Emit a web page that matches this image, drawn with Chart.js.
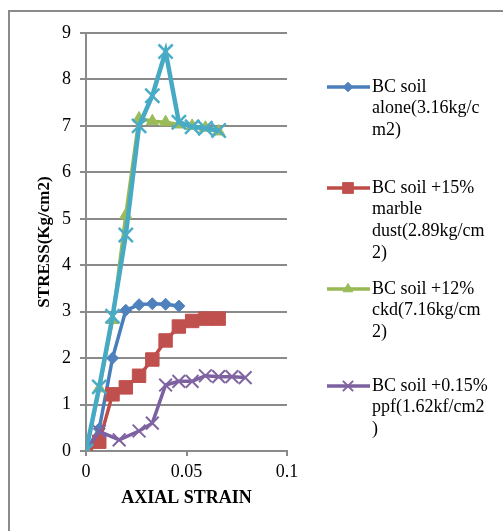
<!DOCTYPE html>
<html>
<head>
<meta charset="utf-8">
<script src="https://cdn.jsdelivr.net/npm/chart.js"></script>
<style>
  html, body { margin: 0; padding: 0; background: #fff; overflow: hidden; }
  #wrap { position: relative; width: 503px; height: 531px; }
  #frame { position: absolute; left: 8px; top: 10px; width: 600px; height: 600px; border: 2px solid #8a8a8a; }
  canvas { position: absolute; left: 0; top: 0; }
</style>
</head>
<body>
<div id="wrap">
  <div id="frame"></div>
  <canvas id="grafico" width="503" height="531"></canvas>
</div>
<script>
// valores (deformação axial x tensão)
const strainAlone = [0, 0.0066, 0.0132, 0.0198, 0.0264, 0.033, 0.0396, 0.0462];
const stressAlone = [0, 0.48, 2.0, 3.03, 3.15, 3.17, 3.16, 3.12];

const strainMarble = [0, 0.0066, 0.0132, 0.0198, 0.0264, 0.033, 0.0396, 0.0462, 0.0528, 0.0594, 0.066];
const stressMarble = [0, 0.2, 1.22, 1.37, 1.62, 1.97, 2.38, 2.68, 2.8, 2.85, 2.85];

const strainCkd = [0, 0.0066, 0.0132, 0.0198, 0.0264, 0.033, 0.0396, 0.0462, 0.0528, 0.0594, 0.066];
const stressCkd = [0, 1.35, 2.82, 5.08, 7.16, 7.1, 7.08, 7.03, 7.0, 6.96, 6.88];

const strainPpf = [0, 0.0066, 0.0165, 0.0264, 0.033, 0.0396, 0.0462, 0.0528, 0.0594, 0.066, 0.0726, 0.0792];
const stressPpf = [0, 0.42, 0.24, 0.43, 0.6, 1.42, 1.5, 1.5, 1.62, 1.6, 1.6, 1.58];

// quinta série (sem entrada na legenda)
const strainFifth = [0, 0.0066, 0.0132, 0.0198, 0.0264, 0.033, 0.0396, 0.0462, 0.0528, 0.0594, 0.066];
const stressFifth = [0, 1.38, 2.9, 4.65, 7.0, 7.65, 8.6, 7.08, 6.98, 6.95, 6.9];

const legendLabels = [
  ['BC soil', 'alone(3.16kg/c', 'm2)'],
  ['BC soil +15%', 'marble', 'dust(2.89kg/cm', '2)'],
  ['BC soil +12%', 'ckd(7.16kg/cm', '2)'],
  ['BC soil +0.15%', 'ppf(1.62kf/cm2', ')']
];

const xTicks = [0, 0.05, 0.1];

function pontos(xs, ys) {
  return xs.map((x, i) => ({ x: x, y: ys[i] }));
}

const series = [
  { data: pontos(strainAlone, stressAlone), color: '#4A7EBB', fill: '#4F81BD', style: 'rectRot', radius: 6, border: 1 },
  { data: pontos(strainMarble, stressMarble), color: '#BE4B48', fill: '#C0504D', style: 'rect', radius: 9.5, border: 1 },
  { data: pontos(strainCkd, stressCkd), color: '#98B954', fill: '#9BBB59', style: 'triangle', radius: 7, border: 1 },
  { data: pontos(strainPpf, stressPpf), color: '#7D60A0', fill: '#8064A2', style: 'crossRot', radius: 9, border: 2 },
  { data: pontos(strainFifth, stressFifth), color: '#46AAC5', fill: '#4BACC6', style: 'crossRot', radius: 10, border: 2.5 }
];

const serif = '"Liberation Serif", "Times New Roman", serif';

const legendaManual = {
  id: 'legendaManual',
  afterDraw(chart) {
    const ctx = chart.ctx;
    const topos = [87, 188, 289, 386];
    ctx.save();
    ctx.font = '18px ' + serif;
    ctx.textBaseline = 'middle';
    legendLabels.forEach((linhas, i) => {
      const s = series[i];
      const y = topos[i];
      ctx.strokeStyle = s.color;
      ctx.lineWidth = 3.5;
      ctx.beginPath();
      ctx.moveTo(327, y);
      ctx.lineTo(370, y);
      ctx.stroke();
      const opts = { pointStyle: s.style, radius: s.radius * 0.8, borderWidth: s.border };
      ctx.fillStyle = s.fill;
      ctx.strokeStyle = s.fill;
      ctx.lineWidth = s.border;
      if (Chart.helpers && Chart.helpers.drawPoint) {
        Chart.helpers.drawPoint(ctx, opts, 348, y);
      }
      ctx.fillStyle = '#000';
      linhas.forEach((t, j) => ctx.fillText(t, 372, y + j * 21.7));
    });
    ctx.restore();
  }
};

new Chart(document.getElementById('grafico'), {
  type: 'line',
  data: {
    datasets: series.map((s, i) => ({
      data: s.data,
      borderColor: s.color,
      backgroundColor: s.fill,
      pointBackgroundColor: s.fill,
      pointBorderColor: s.fill,
      pointStyle: s.style,
      pointRadius: s.radius,
      pointBorderWidth: s.border,
      borderWidth: i === 4 ? 4.5 : 3.5,
      tension: 0,
      fill: false,
      order: series.length - i
    }))
  },
  options: {
    responsive: false,
    animation: false,
    devicePixelRatio: 1,
    layout: { padding: { left: 0, top: 33, right: 216, bottom: 0 } },
    plugins: {
      legend: { display: false },
      tooltip: { enabled: false }
    },
    scales: {
      x: {
        type: 'linear',
        min: 0,
        max: 0.1,
        afterBuildTicks: (scale) => { scale.ticks = xTicks.map(v => ({ value: v })); },
        afterFit: (scale) => { scale.height = 80; },
        ticks: {
          color: '#000',
          padding: 5,
          font: { family: serif, size: 18 },
          callback: (v) => String(v)
        },
        grid: { drawOnChartArea: false, drawTicks: true, tickLength: 5, color: '#8a8a8a', lineWidth: 2 },
        border: { color: '#8a8a8a', width: 2 },
        title: {
          display: true,
          text: 'AXIAL STRAIN',
          color: '#000',
          font: { family: serif, size: 18, weight: 'bold' },
          padding: { top: 0, bottom: 22 }
        }
      },
      y: {
        min: 0,
        max: 9,
        afterFit: (scale) => { scale.width = 86; },
        ticks: {
          stepSize: 1,
          color: '#000',
          padding: 9,
          font: { family: serif, size: 18 }
        },
        grid: { color: '#8a8a8a', lineWidth: 2, tickLength: 6 },
        border: { color: '#8a8a8a', width: 2 },
        title: {
          display: true,
          text: 'STRESS(Kg/cm2)',
          color: '#000',
          font: { family: serif, size: 17, weight: 'bold' },
          padding: { top: 34, bottom: 0 }
        }
      }
    }
  },
  plugins: [legendaManual]
});
</script>
</body>
</html>
